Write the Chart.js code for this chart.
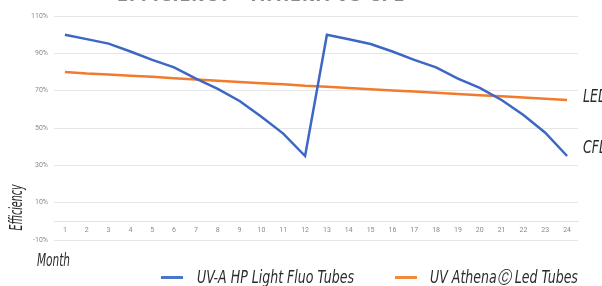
<!DOCTYPE html>
<html>
<head>
<meta charset="utf-8">
<script src="https://cdn.jsdelivr.net/npm/chart.js@4"></script>
<style>
  html, body { margin: 0; padding: 0; background: #fff; overflow: hidden; }
  #wrap { position: relative; width: 602px; height: 286px; }
  canvas { position: absolute; left: 0; top: 0; }
  .lbl { position: absolute; font-family: "Liberation Sans Narrow", "DejaVu Sans Condensed", "Roboto", sans-serif; font-style: italic; font-size: 17px; color: #2b2b2b; white-space: nowrap; line-height: 1; transform-origin: 0 50%; }
  #title { position: absolute; left: 117px; top: -15.5px; font-family: "Liberation Sans Narrow", "DejaVu Sans Condensed", sans-serif; font-weight: bold; font-size: 19px; color: #8a8a8a; letter-spacing: 1px; white-space: nowrap; line-height: 1; transform-origin: 0 0; }
  .sw { position: absolute; height: 3px; }
</style>
</head>
<body>
<div id="wrap">
  <canvas id="c" width="602" height="286"></canvas>
  <div id="title">EFFICIENCY - ATHENA VS CFL</div>
  <div class="lbl" id="yl">Efficiency</div>
  <div class="lbl" id="mo" style="left:37px; top:252px;">Month</div>
  <div class="lbl" id="led" style="left:583px; top:88px;">LED</div>
  <div class="lbl" id="cfl" style="left:583px; top:139px;">CFL</div>
  <div class="sw" style="left:161px; top:276px; width:22px; background:#4a78c8;"></div>
  <div class="lbl" id="lg1" style="left:197px; top:269px;"></div>
  <div class="sw" style="left:395px; top:276px; width:22px; background:#f08a3c;"></div>
  <div class="lbl" id="lg2" style="left:430px; top:269px;"></div>
</div>
<script>
const months = ["1","2","3","4","5","6","7","8","9","10","11","12","13","14","15","16","17","18","19","20","21","22","23","24"];
const fluoLabel = "UV-A HP Light Fluo Tubes";
const ledLabel = "UV Athena\u24B8 Led Tubes";
const fluoValues = [100, 97.6, 95.2, 91, 86.5, 82.5, 76.5, 71, 64.5, 56, 47, 35, 100, 97.5, 95, 91, 86.5, 82.5, 76.5, 71.5, 65, 57, 47.5, 35];
const ledValues = [80, 79.2, 78.7, 78, 77.4, 76.6, 76, 75.3, 74.7, 74, 73.4, 72.6, 72.1, 71.4, 70.8, 70.1, 69.5, 68.9, 68.2, 67.6, 67, 66.3, 65.7, 65];
const yTicks = { min: -10, max: 110, step: 20 };

document.getElementById('lg1').textContent = fluoLabel;
document.getElementById('lg2').textContent = ledLabel;

function fitWidth(id, target) {
  const el = document.getElementById(id);
  const s = target / el.offsetWidth;
  el.style.transform = 'scaleX(' + s + ')';
  return s;
}
const sLed = fitWidth('lg1', 157);
fitWidth('lg2', 148);
fitWidth('mo', 33);
fitWidth('title', 288);
document.getElementById('led').style.transform = 'scaleX(' + sLed + ')';
document.getElementById('cfl').style.transform = 'scaleX(' + sLed + ')';
(function () {
  const el = document.getElementById('yl');
  const w = el.offsetWidth, h = el.offsetHeight;
  const s = 46 / w;
  el.style.transformOrigin = '50% 50%';
  el.style.left = (16 - w / 2) + 'px';
  el.style.top = (207 - h / 2) + 'px';
  el.style.transform = 'rotate(-90deg) scaleX(' + s + ')';
})();

new Chart(document.getElementById('c'), {
  type: 'line',
  data: {
    labels: months,
    datasets: [
      { label: fluoLabel, data: fluoValues, borderColor: '#3d67c4', backgroundColor: '#3d67c4', borderWidth: 2.5, pointRadius: 0, tension: 0 },
      { label: ledLabel, data: ledValues, borderColor: '#f07b2c', backgroundColor: '#f07b2c', borderWidth: 2.5, pointRadius: 0, tension: 0 }
    ]
  },
  options: {
    responsive: false,
    animation: false,
    layout: { padding: { left: 0, right: 24, top: 16, bottom: 46 } },
    plugins: { legend: { display: false }, tooltip: { enabled: false }, title: { display: false } },
    scales: {
      x: {
        position: { y: 0 },
        offset: true,
        grid: { display: false, drawTicks: false },
        border: { display: true, color: '#e3e3e3', width: 1 },
        ticks: { color: '#8a8a8a', font: { size: 7, family: 'Roboto' }, padding: 5, maxRotation: 0, autoSkip: false }
      },
      y: {
        min: yTicks.min, max: yTicks.max,
        afterFit: s => { s.width = 54; },
        grid: { color: '#e6e6e6', lineWidth: 1, drawTicks: false },
        border: { display: false },
        ticks: { stepSize: yTicks.step, color: '#8a8a8a', font: { size: 7, family: 'Roboto' }, padding: 6, callback: v => v + '%' }
      }
    }
  }
});
</script>
</body>
</html>
